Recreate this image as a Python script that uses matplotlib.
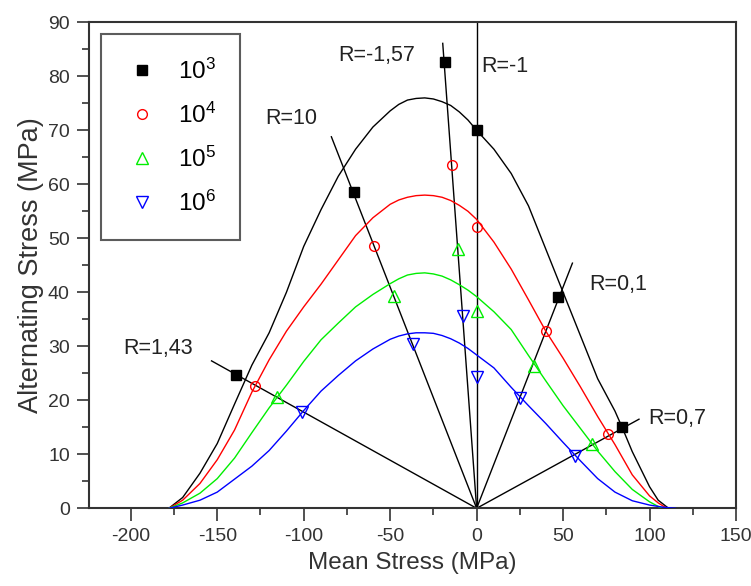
import matplotlib
matplotlib.use('Agg')
import matplotlib.pyplot as plt
from matplotlib.ticker import MultipleLocator

plt.rcParams['font.family'] = ['Liberation Sans', 'DejaVu Sans']
plt.rcParams['mathtext.fontset'] = 'custom'
plt.rcParams['mathtext.rm'] = 'Liberation Sans'
plt.rcParams['mathtext.it'] = 'Liberation Sans:italic'
plt.rcParams['mathtext.bf'] = 'Liberation Sans:bold'
plt.rcParams['axes.unicode_minus'] = False

# ---------------- data ----------------
r_labels = ['R=1,43', 'R=10', 'R=-1,57', 'R=-1', 'R=0,1', 'R=0,7']
# radial load-ratio lines: from origin to these end points
line_end_x = [-153.3, -84.0, -19.6, 0.0, 55.4, 93.9]
line_end_y = [27.3, 68.8, 86.1, 90.0, 45.4, 16.5]
# label anchor (left, vertical centre)
label_x = [-204.6, -122.5, -80.0, 2.7, 65.0, 99.2]
label_y = [29.6, 72.1, 83.9, 81.8, 41.5, 16.7]

# experimental points (mean stress, alternating stress)
n1e3_x = [-139.0, -71.0, -18.3, 0.0, 47.1, 84.2]
n1e3_y = [24.6, 58.5, 82.6, 70.0, 39.1, 15.1]
n1e4_x = [-128.1, -59.6, -14.4, 0.0, 40.0, 76.2]
n1e4_y = [22.7, 48.5, 63.6, 52.1, 32.8, 13.7]
n1e5_x = [-115.2, -47.8, -10.6, 0.0, 32.9, 67.0]
n1e5_y = [20.6, 39.3, 48.0, 36.6, 26.4, 11.9]
n1e6_x = [-101.0, -36.9, -7.7, 0.0, 25.2, 56.8]
n1e6_y = [17.8, 30.4, 35.7, 24.3, 20.4, 9.7]

# fitted curves
c1e3_x = [-178, -170, -160, -150, -140, -130, -120, -110, -100, -90, -80, -70, -60, -50, -45, -40,
          -35, -30, -25, -20, -15, -10, -5, 0, 10, 20, 30, 40, 50, 60, 65, 70, 80, 84, 90, 100,
          105, 111]
c1e3_y = [0, 2, 6.5, 12, 19.3, 26.5, 32.5, 40, 48.5, 55.3, 61.5, 66.5, 70.6, 73.6, 74.8, 75.6,
          75.9, 76, 75.8, 75.3, 74.6, 73.4, 71.9, 70, 66.5, 62, 56, 48, 40, 32, 28, 24, 18,
          15.1, 10.5, 4, 1.5, 0]
c1e4_x = [-178, -170, -160, -150, -140, -130, -120, -110, -100, -90, -80, -70, -60, -50, -45, -40,
          -35, -30, -25, -20, -15, -10, -5, 0, 10, 20, 30, 40, 50, 60, 70, 80, 90, 100, 105, 110]
c1e4_y = [0, 1.5, 4.6, 9, 14.5, 21.5, 27.5, 32.8, 37.3, 41.5, 46, 50.5, 53.8, 56.3, 57.1, 57.6,
          57.9, 58, 57.9, 57.6, 57, 56.1, 55, 53.5, 49.3, 44.3, 38.6, 32.8, 27.8, 22.5, 17, 11.8,
          6.2, 2.3, 1, 0]
c1e5_x = [-178, -170, -160, -150, -140, -130, -120, -110, -100, -90, -80, -70, -60, -50, -45, -40,
          -35, -30, -25, -20, -15, -10, -5, 0, 10, 20, 30, 40, 50, 60, 70, 80, 90, 100, 107]
c1e5_y = [0, 1, 2.8, 5.5, 9.3, 14, 18.6, 22.8, 27.2, 31.2, 34.3, 37.3, 39.6, 41.6, 42.5, 43.2,
          43.5, 43.6, 43.4, 43, 42.3, 41.4, 40.4, 39.2, 36.4, 33.1, 28.3, 23.6, 19, 14.8, 10.6,
          6.8, 3.5, 1.2, 0]
c1e6_x = [-178, -170, -160, -150, -140, -130, -120, -110, -100, -90, -80, -70, -60, -50, -45, -40,
          -35, -30, -25, -20, -15, -10, -5, 0, 10, 20, 30, 40, 50, 60, 70, 80, 90, 100, 108, 115]
c1e6_y = [0, 0.6, 1.5, 3, 5.4, 7.8, 10.7, 14.3, 18.1, 21.7, 24.6, 27.3, 29.5, 31.3, 31.9, 32.3,
          32.5, 32.5, 32.4, 32, 31.4, 30.6, 29.6, 28.4, 26, 22.4, 19, 15.7, 12.2, 8.8, 5.5, 3,
          1.4, 0.6, 0.2, 0]

series_labels = ['$10^3$', '$10^4$', '$10^5$', '$10^6$']
series_colors = ['black', '#ff0000', '#00ee00', '#0000ff']

# ---------------- figure ----------------
W, H = 751, 586
fig = plt.figure(figsize=(W / 100, H / 100), dpi=100)
L, R, T, B = 89.3, 736.0, 22.3, 508.3
ax = fig.add_axes([L / W, (H - B) / H, (R - L) / W, (B - T) / H])

axis_col = '#333333'

# radial lines
for ex, ey in zip(line_end_x, line_end_y):
    ax.plot([0, ex], [0, ey], color='black', lw=1.0, zorder=2)

# curves
for cx, cy, col in zip([c1e3_x, c1e4_x, c1e5_x, c1e6_x],
                       [c1e3_y, c1e4_y, c1e5_y, c1e6_y], series_colors):
    ax.plot(cx, cy, color=col, lw=1.0, zorder=3)

# points
ax.plot(n1e3_x, n1e3_y, ls='none', marker='s', ms=6.5, mfc='black', mec='black',
        label=series_labels[0], zorder=5)
ax.plot(n1e4_x, n1e4_y, ls='none', marker='o', ms=7, mfc='none', mec=series_colors[1], mew=1.0,
        label=series_labels[1], zorder=5)
ax.plot(n1e5_x, n1e5_y, ls='none', marker='^', ms=8, mfc='none', mec=series_colors[2], mew=1.0,
        label=series_labels[2], zorder=5)
ax.plot(n1e6_x, n1e6_y, ls='none', marker='v', ms=8, mfc='none', mec=series_colors[3], mew=1.0,
        label=series_labels[3], zorder=5)

for lab, lx, ly in zip(r_labels, label_x, label_y):
    ax.text(lx, ly, lab, fontsize=15.5, color='#222222', ha='left', va='center', zorder=6)

ax.set_xlim(-224, 150)
ax.set_ylim(0, 90)
ax.xaxis.set_major_locator(MultipleLocator(50))
ax.xaxis.set_minor_locator(MultipleLocator(25))
ax.yaxis.set_major_locator(MultipleLocator(10))
ax.yaxis.set_minor_locator(MultipleLocator(5))
ax.tick_params(which='major', direction='out', length=9, width=1.2, color=axis_col,
               labelsize=14, labelcolor='#333333', pad=5)
ax.tick_params(which='minor', direction='out', length=5, width=1.2, color=axis_col)
for s in ax.spines.values():
    s.set_color(axis_col)
    s.set_linewidth(1.5)

ax.set_xlabel('Mean Stress (MPa)', fontsize=17.5, color='#333333', labelpad=5)
ax.set_ylabel('Alternating Stress (MPa)', fontsize=19.5, color='#333333', labelpad=3)

leg = ax.legend(loc='upper left', bbox_to_anchor=(0.018, 0.976), borderaxespad=0,
                fontsize=17.5, frameon=True, fancybox=False, edgecolor=axis_col,
                handlelength=1.4, handletextpad=0.75, borderpad=1.0, labelspacing=0.78,
                markerscale=1.0)
leg.get_frame().set_linewidth(1.5)

fig.savefig('out.png', dpi=100)
